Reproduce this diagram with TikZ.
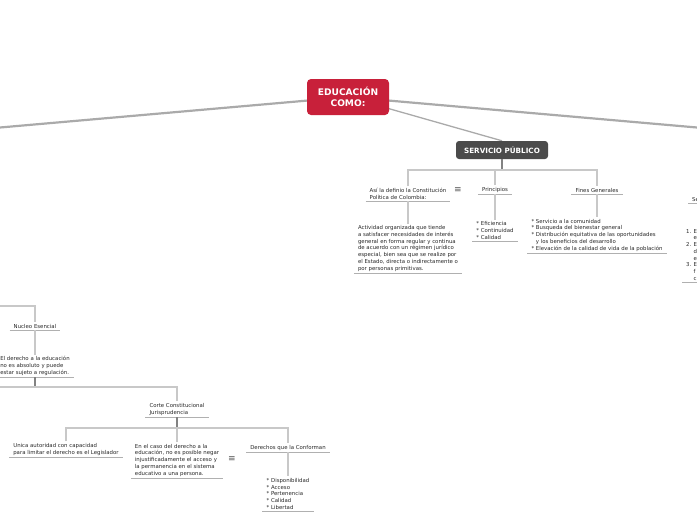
\documentclass[tikz,border=0pt]{standalone}
\usepackage{fontspec}
\setmainfont{DejaVu Sans}
\usetikzlibrary{backgrounds}
\definecolor{rootred}{RGB}{200,32,58}
\definecolor{spdark}{RGB}{75,75,75}
\definecolor{bigline}{RGB}{170,170,170}
\definecolor{connc}{RGB}{200,200,200}
\definecolor{stubc}{RGB}{130,130,130}
\definecolor{ulc}{RGB}{176,176,176}
\definecolor{txtc}{RGB}{40,40,40}
\begin{document}
\begin{tikzpicture}[x=1pt,y=-1pt,
  rootbox/.style={fill=rootred, rounded corners=4pt, minimum width=82pt, minimum height=36pt,
    text=white, font=\fontsize{9.1}{10.5}\selectfont\bfseries, align=center, inner sep=0pt},
  spbox/.style={fill=spdark, rounded corners=3pt, minimum width=92pt, minimum height=18pt,
    text=white, font=\fontsize{7.2}{8}\selectfont\bfseries, inner sep=0pt},
  tx/.style={font=\fontsize{5.4}{6.7}\selectfont, text=txtc, inner xsep=4pt, inner ysep=1.6pt, align=left},
  icon/.style={font=\fontsize{9}{9}\selectfont, text=txtc!80, inner sep=0pt},
  bigl/.style={draw=bigline, line width=2.2pt},
  spl/.style={draw=bigline, line width=1.3pt},
  conn/.style={draw=connc, line width=1.6pt},
  stub/.style={draw=stubc, line width=1.6pt},
  ul/.style={draw=ulc, line width=0.8pt}
]
\useasboundingbox (0,0) rectangle (697,520);
\clip (0,0) rectangle (697,520);

% main nodes
\node[rootbox] (root) at (348,97) {EDUCACIÓN\\COMO:};
\node[spbox] (sp) at (502,150) {SERVICIO PÚBLICO};

% servicio publico subtree
\node[tx, anchor=south] (asi) at (408,201) {Así la definio la Constitución\\Política de Colombia:};
\node[icon] (ic1) at (458,190) {≡};
\node[tx, anchor=south] (act) at (408,273) {Actividad organizada que tiende\\a satisfacer necesidades de interés\\general en forma regular y continua\\de acuerdo con un régimen jurídico\\especial, bien sea que se realize por\\el Estado, directa o indirectamente o\\por personas primitivas.};
\node[tx, anchor=south] (prin) at (495,194) {Principios};
\node[tx, anchor=south] (prinl) at (495,241) {* Eficiencia\\* Continuidad\\* Calidad};
\node[tx, anchor=south] (fines) at (597,194) {Fines Generales};
\node[tx, anchor=south] (finesl) at (597,253) {* Servicio a la comunidad\\* Busqueda del bienestar general\\* Distribución equitativa de las oportunidades\\\hphantom{* }y los beneficios del desarrollo\\* Elevación de la calidad de vida de la población};

% right partial subtree (cut off by the picture's edge, as in the reference)
\node[tx, anchor=south west] (se) at (688,203) {Se};
\node[tx, anchor=south west] (sel) at (682,282) {1. E\\\hphantom{1. }e\\2. E\\\hphantom{2. }d\\\hphantom{2. }e\\3. E\\\hphantom{3. }f\\\hphantom{3. }c};

% left subtree
\node[tx, anchor=south] (nuc) at (35,330) {Nucleo Esencial};
\node[tx, anchor=south] (eld) at (35,377) {El derecho a la educación\\no es absoluto y puede\\estar sujeto a regulación.};
\node[tx, anchor=south] (corte) at (177,417) {Corte Constitucional\\Jurisprudencia};
\node[tx, anchor=south] (unica) at (66,457) {Unica autoridad con capacidad\\para limitar el derecho es el Legislador};
\node[tx, anchor=south] (caso) at (177,478) {En el caso del derecho a la\\educación, no es posible negar\\injustificadamente el acceso y\\la permanencia en el sistema\\educativo a una persona.};
\node[icon] (ic2) at (232,459) {≡};
\node[tx, anchor=south] (der) at (288,452) {Derechos que la Conforman};
\node[tx, anchor=south] (derl) at (288,511) {* Disponibilidad\\* Acceso\\* Pertenencia\\* Calidad\\* Libertad};

% underlines
\foreach \n in {asi,act,prin,prinl,fines,finesl,se,sel,nuc,eld,corte,unica,caso,der,derl}
  \draw[ul] (\n.south west) -- (\n.south east);

% free ends
\coordinate (L) at (0,127.5);
\coordinate (R) at (697,127.5);
\coordinate (b1) at (502,170);
\coordinate (lb1) at (0,306);
\coordinate (bus2) at (35,387);
\coordinate (lb2) at (0,387);
\coordinate (bus3) at (177,428);

\begin{scope}[on background layer]
  \draw[bigl] (root.center) -- (L);
  \draw[bigl] (root.center) -- (R);
  \draw[spl] (root.center) -- (sp.north);
\end{scope}

% servicio publico connectors
\draw[stub] (sp.south) -- (b1);
\draw[conn] (asi.north) |- (b1) -| (fines.north);
\draw[conn] (prin.north) |- (b1);
\draw[conn] (asi.south) -- (act.north);
\draw[conn] (prin.south) -- (prinl.north);
\draw[conn] (fines.south) -- (finesl.north);

% left connectors
\draw[conn] (lb1) -| (nuc.north);
\draw[conn] (nuc.south) -- (eld.north);
\draw[stub] (eld.south) -- (bus2);
\draw[conn] (lb2) -| (corte.north);
\draw[stub] (corte.south) -- (bus3);
\draw[conn] (unica.north) |- (bus3) -| (der.north);
\draw[conn] (caso.north) -- (bus3);
\draw[conn] (der.south) -- (derl.north);
\end{tikzpicture}
\end{document}
